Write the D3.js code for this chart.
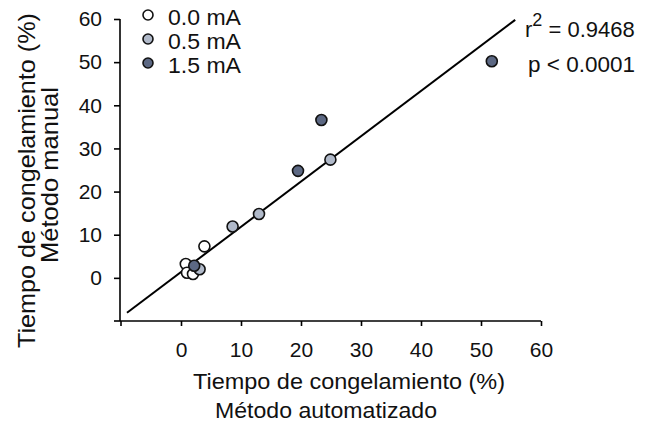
<!DOCTYPE html>
<html>
<head>
<meta charset="utf-8">
<script src="https://cdn.jsdelivr.net/npm/d3@7"></script>
<style>
  body { margin: 0; background: #fff; }
  text { font-family: "Liberation Sans", Arial, sans-serif; fill: #111; }
</style>
</head>
<body>
<div id="chart"></div>
<script>
// datos (x = automatizado, y = manual)
var grupos = ['0.0 mA', '0.5 mA', '1.5 mA'];
var colores = ['#ffffff', '#b0b9c9', '#5c6883'];
var x00 = [0.8, 1.0, 2.0, 3.9];
var y00 = [3.2, 1.2, 0.9, 7.3];
var x05 = [3.1, 8.6, 13.0, 24.9];
var y05 = [2.0, 11.9, 14.8, 27.4];
var x15 = [2.2, 19.5, 23.4, 51.8];
var y15 = [2.8, 24.8, 36.6, 50.2];
var ticks = [0, 10, 20, 30, 40, 50, 60];
var recta = [[-9, -8.1], [55.7, 59.8]]; // ajuste lineal
var r2 = '0.9468', pval = 'p < 0.0001';

var fuente = '"Liberation Sans", Arial, sans-serif';
var svg = d3.select('#chart').append('svg').attr('width', 646).attr('height', 424);

var x = d3.scaleLinear().domain([-10, 60]).range([121, 541]);
var y = d3.scaleLinear().domain([-10, 60]).range([321, 19]);

// ejes
svg.append('g').attr('transform', 'translate(0,321)')
  .call(d3.axisBottom(x).tickValues(ticks).tickSize(5).tickPadding(16).tickSizeOuter(0))
  .call(g => g.select('.domain').attr('d', 'M120,0H541').attr('stroke-width', 1.6))
  .call(g => g.selectAll('.tick line').attr('stroke-width', 1.6))
  .call(g => g.selectAll('.tick text').attr('font-size', 21).attr('font-family', fuente).attr('fill', '#111'));
svg.append('g').attr('transform', 'translate(120,0)')
  .call(d3.axisLeft(y).tickValues(ticks).tickSize(6).tickPadding(12).tickSizeOuter(0))
  .call(g => g.select('.domain').attr('d', 'M0,' + y(60) + 'V' + y(-10)).attr('stroke-width', 1.6))
  .call(g => g.selectAll('.tick line').attr('stroke-width', 1.6))
  .call(g => g.selectAll('.tick text').attr('font-size', 21).attr('font-family', fuente).attr('fill', '#111'));

// extremos de los ejes (marca en -10)
svg.append('line').attr('x1', 114).attr('x2', 120).attr('y1', y(-10)).attr('y2', y(-10)).attr('stroke', '#000').attr('stroke-width', 1.6);
svg.append('line').attr('x1', 121).attr('x2', 121).attr('y1', 321).attr('y2', 326).attr('stroke', '#000').attr('stroke-width', 1.6);

// recta de regresion
svg.append('line')
  .attr('x1', x(recta[0][0])).attr('y1', y(recta[0][1]))
  .attr('x2', x(recta[1][0])).attr('y2', y(recta[1][1]))
  .attr('stroke', '#000').attr('stroke-width', 2);

// puntos
var series = [[x00, y00], [x05, y05], [x15, y15]];
series.forEach(function(s, k) {
  svg.append('g').selectAll('circle').data(s[0]).enter().append('circle')
    .attr('cx', d => x(d))
    .attr('cy', (d, i) => y(s[1][i]))
    .attr('r', 5.5)
    .attr('fill', colores[k])
    .attr('stroke', '#111').attr('stroke-width', 1.6);
});

// leyenda
grupos.forEach(function(g, i) {
  svg.append('circle').attr('cx', 148).attr('cy', 15 + i * 24).attr('r', 5)
    .attr('fill', colores[i]).attr('stroke', '#111').attr('stroke-width', 1.6);
  svg.append('text').attr('x', 168).attr('y', 25 + i * 24).attr('font-size', 22)
    .attr('textLength', 73).attr('lengthAdjust', 'spacingAndGlyphs').text(g);
});

// estadisticos
var t = svg.append('text').attr('x', 525).attr('y', 37).attr('font-size', 22);
t.append('tspan').text('r');
t.append('tspan').attr('dy', -11).attr('font-size', 18).text('2');
t.append('tspan').attr('dy', 11).text(' = ' + r2);
svg.append('text').attr('x', 528).attr('y', 72).attr('font-size', 22)
  .attr('textLength', 107).attr('lengthAdjust', 'spacingAndGlyphs').text(pval);

// titulos
svg.append('text').attr('x', 193).attr('y', 389).attr('font-size', 22)
  .attr('textLength', 312).attr('lengthAdjust', 'spacingAndGlyphs').text('Tiempo de congelamiento (%)');
svg.append('text').attr('x', 215).attr('y', 418).attr('font-size', 22)
  .attr('textLength', 222).attr('lengthAdjust', 'spacingAndGlyphs').text('Método automatizado');
svg.append('text').attr('transform', 'translate(35,348) rotate(-90)').attr('font-size', 24)
  .attr('textLength', 335).attr('lengthAdjust', 'spacingAndGlyphs').text('Tiempo de congelamiento (%)');
svg.append('text').attr('transform', 'translate(58,263) rotate(-90)').attr('font-size', 24)
  .attr('textLength', 176).attr('lengthAdjust', 'spacingAndGlyphs').text('Método manual');
</script>
</body>
</html>
